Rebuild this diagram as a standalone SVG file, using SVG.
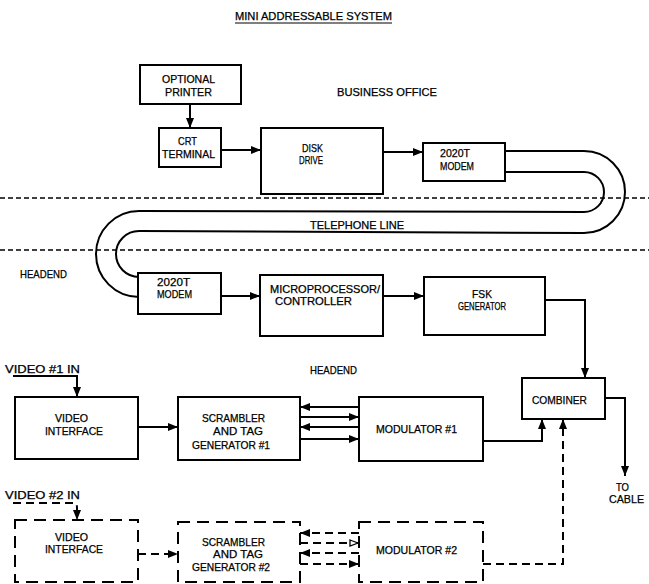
<svg xmlns="http://www.w3.org/2000/svg" width="649" height="584" viewBox="0 0 649 584">
<style>
text{font-family:"Liberation Sans",Arial,sans-serif;font-size:10.5px;fill:#000;stroke:#000;stroke-width:0.25}
.box{fill:#fff;stroke:#000;stroke-width:2}
.dbox{fill:#fff;stroke:#000;stroke-width:2;stroke-dasharray:12 7}
.ln{fill:none;stroke:#000;stroke-width:2}
.dln{fill:none;stroke:#000;stroke-width:2;stroke-dasharray:8 5}
.sep{fill:none;stroke:#000;stroke-width:1.5;stroke-dasharray:5 3}
</style>
<defs>
<marker id="ah" viewBox="0 0 10 8" refX="10" refY="4" markerWidth="10" markerHeight="8" markerUnits="userSpaceOnUse" orient="auto">
<path d="M0,0 L10,4 L0,8 Z" fill="#000"/>
</marker>
<marker id="aho" viewBox="0 0 10 8" refX="10" refY="4" markerWidth="10" markerHeight="8" markerUnits="userSpaceOnUse" orient="auto">
<path d="M1,1 L9,4 L1,7 Z" fill="#fff" stroke="#000" stroke-width="1.3"/>
</marker>
</defs>
<rect width="649" height="584" fill="#fff"/>

<g id="labels">
<text x="235" y="20" textLength="157" lengthAdjust="spacingAndGlyphs">MINI ADDRESSABLE SYSTEM</text>
<line x1="235" y1="23" x2="392" y2="23" stroke="#000" stroke-width="1.2"/>
<text x="337" y="96" textLength="100" lengthAdjust="spacingAndGlyphs">BUSINESS OFFICE</text>
<text x="310" y="229" textLength="94" lengthAdjust="spacingAndGlyphs">TELEPHONE LINE</text>
<text x="20" y="278" textLength="47" lengthAdjust="spacingAndGlyphs">HEADEND</text>
<text x="310" y="374" textLength="47" lengthAdjust="spacingAndGlyphs">HEADEND</text>
<text x="5" y="373" textLength="75" lengthAdjust="spacingAndGlyphs">VIDEO #1 IN</text>
<text x="5" y="499" textLength="75" lengthAdjust="spacingAndGlyphs">VIDEO #2 IN</text>
<text x="616" y="491" textLength="13" lengthAdjust="spacingAndGlyphs">TO</text>
<text x="609" y="503" textLength="35" lengthAdjust="spacingAndGlyphs">CABLE</text>
<line class="sep" x1="0" y1="198" x2="649" y2="198"/>
<line class="sep" x1="0" y1="250" x2="649" y2="250"/>
</g>

<g id="connectors">
<line class="ln" x1="190" y1="104" x2="190" y2="128" marker-end="url(#ah)"/>
<line class="ln" x1="221" y1="150" x2="261" y2="150" marker-end="url(#ah)"/>
<line class="ln" x1="383" y1="152" x2="423" y2="152" marker-end="url(#ah)"/>
<path class="ln" d="M505,151 H584 A41,41 0 0 1 584,233 L139,231 A23,23 0 0 0 139,277 L138,277"/>
<path class="ln" d="M505,172 H584 A20,20 0 0 1 584,212 L139,211 A43,43 0 0 0 139,297 L138,297"/>
<line class="ln" x1="221" y1="296" x2="260" y2="296" marker-end="url(#ah)"/>
<line class="ln" x1="383" y1="296" x2="424" y2="296" marker-end="url(#ah)"/>
<path class="ln" d="M545,300 H585 V378" marker-end="url(#ah)"/>
<path class="ln" d="M605,398 H625 V476" marker-end="url(#ah)"/>
<path class="ln" d="M13,376 H77 V397" marker-end="url(#ah)"/>
<line class="ln" x1="138" y1="427" x2="178" y2="427" marker-end="url(#ah)"/>
<line class="ln" x1="359" y1="407" x2="300" y2="407" marker-end="url(#ah)"/>
<line class="ln" x1="300" y1="417" x2="359" y2="417" marker-end="url(#ah)"/>
<line class="ln" x1="359" y1="427" x2="300" y2="427" marker-end="url(#ah)"/>
<line class="ln" x1="300" y1="439" x2="359" y2="439" marker-end="url(#ah)"/>
<path class="ln" d="M483,441 H542 V419" marker-end="url(#ah)"/>
<path class="dln" d="M483,564 H563 V419" marker-end="url(#ah)"/>
<path class="dln" d="M13,503 H75 Q77,504 77,508 V520" marker-end="url(#ah)"/>
<line class="dln" x1="138" y1="554" x2="178" y2="554" marker-end="url(#ah)"/>
<line class="dln" x1="359" y1="533" x2="300" y2="533" marker-end="url(#ah)"/>
<line class="dln" x1="300" y1="543" x2="359" y2="543" marker-end="url(#aho)"/>
<line class="dln" x1="359" y1="553" x2="300" y2="553" marker-end="url(#ah)"/>
<line class="dln" x1="300" y1="564" x2="359" y2="564" marker-end="url(#ah)"/>
</g>

<g id="printer">
<rect class="box" x="140" y="65" width="101" height="39"/>
<text x="162" y="83" textLength="53" lengthAdjust="spacingAndGlyphs">OPTIONAL</text>
<text x="165" y="96" textLength="47" lengthAdjust="spacingAndGlyphs">PRINTER</text>
</g>
<g id="crt">
<rect class="box" x="159" y="128" width="62" height="39"/>
<text x="178" y="145" textLength="19" lengthAdjust="spacingAndGlyphs">CRT</text>
<text x="162" y="158" textLength="53" lengthAdjust="spacingAndGlyphs">TERMINAL</text>
</g>
<g id="disk">
<rect class="box" x="261" y="128" width="122" height="66"/>
<text x="302" y="152" textLength="21" lengthAdjust="spacingAndGlyphs">DISK</text>
<text x="299" y="164" textLength="24" lengthAdjust="spacingAndGlyphs">DRIVE</text>
</g>
<g id="modem_office">
<rect class="box" x="423" y="143" width="82" height="38"/>
<text x="440" y="157" textLength="30" lengthAdjust="spacingAndGlyphs">2020T</text>
<text x="440" y="170" textLength="34" lengthAdjust="spacingAndGlyphs">MODEM</text>
</g>
<g id="modem_headend">
<rect class="box" x="138" y="273" width="83" height="41"/>
<text x="157" y="286" textLength="33" lengthAdjust="spacingAndGlyphs">2020T</text>
<text x="157" y="298" textLength="35" lengthAdjust="spacingAndGlyphs">MODEM</text>
</g>
<g id="micro">
<rect class="box" x="260" y="275" width="123" height="61"/>
<text x="270" y="293" textLength="110" lengthAdjust="spacingAndGlyphs">MICROPROCESSOR/</text>
<text x="275" y="305" textLength="77" lengthAdjust="spacingAndGlyphs">CONTROLLER</text>
</g>
<g id="fsk">
<rect class="box" x="424" y="277" width="121" height="58"/>
<text x="472" y="298" textLength="20" lengthAdjust="spacingAndGlyphs">FSK</text>
<text x="458" y="310" textLength="48" lengthAdjust="spacingAndGlyphs">GENERATOR</text>
</g>
<g id="combiner">
<rect class="box" x="522" y="378" width="83" height="41"/>
<text x="532" y="404" textLength="55" lengthAdjust="spacingAndGlyphs">COMBINER</text>
</g>
<g id="video_interface_1">
<rect class="box" x="15" y="397" width="123" height="62"/>
<text x="55" y="422" textLength="33" lengthAdjust="spacingAndGlyphs">VIDEO</text>
<text x="45" y="435" textLength="58" lengthAdjust="spacingAndGlyphs">INTERFACE</text>
</g>
<g id="scrambler_1">
<rect class="box" x="178" y="397" width="122" height="63"/>
<text x="202" y="422" textLength="63" lengthAdjust="spacingAndGlyphs">SCRAMBLER</text>
<text x="213" y="435" textLength="50" lengthAdjust="spacingAndGlyphs">AND TAG</text>
<text x="192" y="449" textLength="78" lengthAdjust="spacingAndGlyphs">GENERATOR #1</text>
</g>
<g id="modulator_1">
<rect class="box" x="359" y="397" width="124" height="64"/>
<text x="376" y="433" textLength="81" lengthAdjust="spacingAndGlyphs">MODULATOR #1</text>
</g>
<g id="video_interface_2">
<rect class="dbox" x="15" y="520" width="123" height="62"/>
<text x="55" y="541" textLength="33" lengthAdjust="spacingAndGlyphs">VIDEO</text>
<text x="45" y="553" textLength="58" lengthAdjust="spacingAndGlyphs">INTERFACE</text>
</g>
<g id="scrambler_2">
<rect class="dbox" x="178" y="522" width="122" height="60"/>
<text x="202" y="546" textLength="63" lengthAdjust="spacingAndGlyphs">SCRAMBLER</text>
<text x="213" y="558" textLength="50" lengthAdjust="spacingAndGlyphs">AND TAG</text>
<text x="192" y="571" textLength="78" lengthAdjust="spacingAndGlyphs">GENERATOR #2</text>
</g>
<g id="modulator_2">
<rect class="dbox" x="359" y="522" width="124" height="60"/>
<text x="376" y="554" textLength="81" lengthAdjust="spacingAndGlyphs">MODULATOR #2</text>
</g>
</svg>
